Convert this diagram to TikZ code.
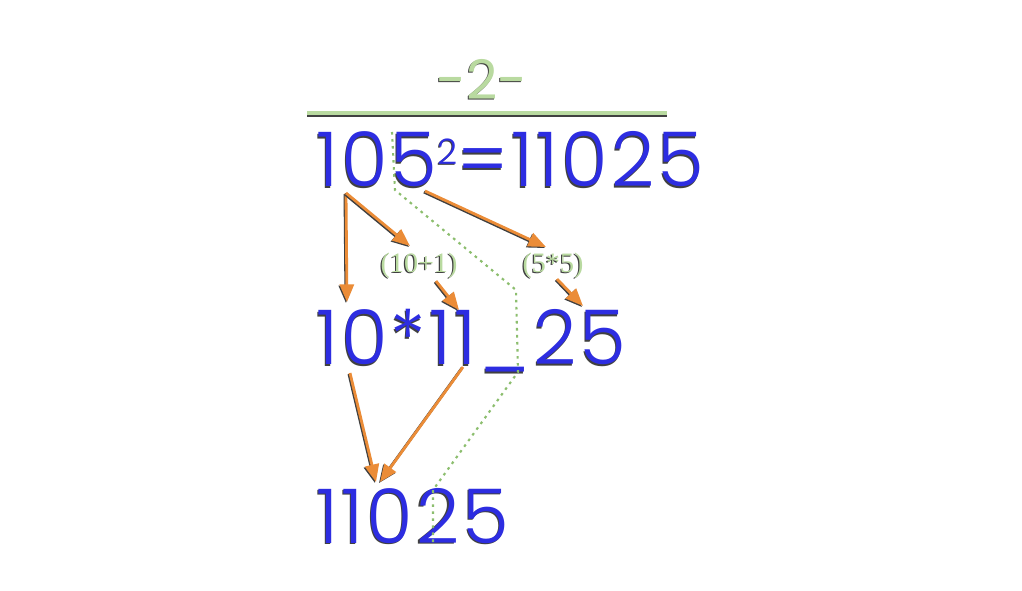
\documentclass[tikz,border=0pt]{standalone}
\usepackage{fontspec}
\setmainfont{Poppins}[UprightFont={* Light}]
\newfontfamily\rowfont{Poppins}[UprightFont={* Light}, LetterSpace=4]
\newfontfamily\titlefont{Poppins}
\newfontfamily\labelfont{Liberation Serif}
\usetikzlibrary{arrows.meta}
\definecolor{digitblue}{RGB}{45,45,225}
\definecolor{paleg}{RGB}{185,218,160}
\definecolor{orangeline}{RGB}{235,140,55}
\definecolor{dotg}{RGB}{140,190,110}
% text with a small dark shadow
\newcommand{\shadowed}[2]{\makebox[0pt][l]{\raisebox{-0.7pt}{\kern-0.7pt\color{black!75}#2}}{\color{#1}#2}}
\newcommand{\sqmark}{\raisebox{13pt}{\fontsize{20}{20}\selectfont 2}}
\tikzset{
  digits/.style={inner sep=0pt, anchor=base west, font=\rowfont\fontsize{43}{43}\selectfont},
  hint/.style={inner sep=0pt, font=\labelfont\fontsize{16}{16}\selectfont},
  orangearrow/.style={draw=orangeline, line width=1.6pt,
    -{Triangle[length=10pt,width=8pt]},
    preaction={draw=black!75, line width=1.6pt, -{Triangle[length=10pt,width=8pt]},
      transform canvas={xshift=-0.6pt,yshift=-0.6pt}}},
  dotpath/.style={draw=dotg, line width=1.2pt, dash pattern=on 1.5pt off 2.5pt}
}
\begin{document}
\begin{tikzpicture}[x=0.02cm, y=-0.02cm]
    \useasboundingbox[fill=white] (0,0) rectangle (1022,591);
    % heading
    \node[inner sep=0pt, font=\titlefont\fontsize{31}{31}\selectfont] (title) at (482,80) {\shadowed{paleg}{-2-}};
    \coordinate (barL) at (307,113);
    \coordinate (barR) at (667,113);
    \draw[black!75, line width=2.6pt] ([yshift=-0.7pt]barL) -- ([yshift=-0.7pt]barR);
    \draw[paleg, line width=2.6pt] (barL) -- (barR);
    % the three rows
    \node[digits] (square) at (316,187) {\shadowed{digitblue}{105\sqmark=11025}};
    \node[digits] (parts) at (316,365) {\shadowed{digitblue}{10*11\_25}};
    \node[digits] (result) at (316,543) {\shadowed{digitblue}{11025}};
    \node[hint] (tens) at (419,266) {\shadowed{paleg}{(10+1)}};
    \node[hint] (units) at (553,266) {\shadowed{paleg}{(5*5)}};
    % arrow ends
    \coordinate (s1) at (346,193);
    \coordinate (s5) at (425,191);
    \coordinate (p10) at (347,302);
    \coordinate (p11) at (410,246);
    \coordinate (p25) at (546,247);
    \coordinate (t1) at (436,281);
    \coordinate (t2) at (459,310);
    \coordinate (u1) at (557,279);
    \coordinate (u2) at (583,306);
    \coordinate (q1) at (350,373);
    \coordinate (q2) at (463,367);
    \coordinate (r1) at (376,482);
    \coordinate (r2) at (380,482);
    \draw[orangearrow] (s1) -- (p10);
    \draw[orangearrow] (s1) -- (p11);
    \draw[orangearrow] (s5) -- (p25);
    \draw[orangearrow] (t1) -- (t2);
    \draw[orangearrow] (u1) -- (u2);
    \draw[orangearrow] (q1) -- (r1);
    \draw[orangearrow] (q2) -- (r2);
    % split line
    \coordinate (d1) at (392,132);
    \coordinate (d2) at (395,190);
    \coordinate (d3) at (516,290);
    \coordinate (d4) at (518,372);
    \coordinate (d5) at (433,490);
    \coordinate (d6) at (433,545);
    \draw[dotpath] (d1) -- (d2) -- (d3) -- (d4) -- (d5) -- (d6);
\end{tikzpicture}
\end{document}
